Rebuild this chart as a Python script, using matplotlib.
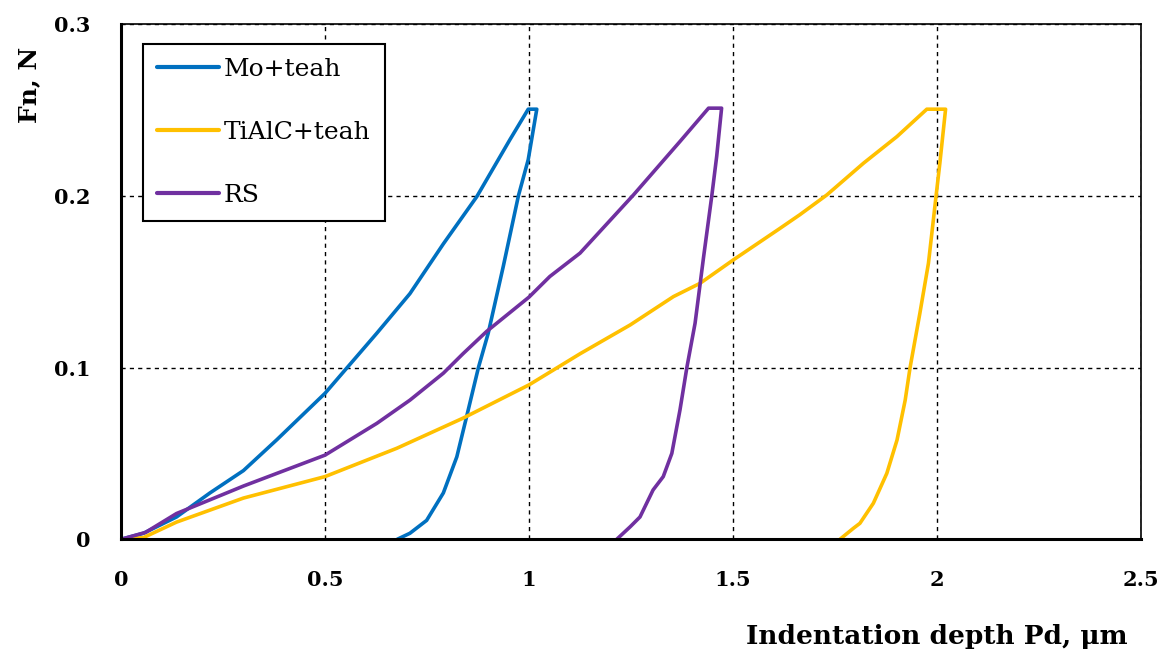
import numpy as np
import matplotlib
matplotlib.use("Agg")
import matplotlib.pyplot as plt

# Mo+teah loading / unloading curve (depth in um, force in N)
mo_depth = [0, 0.055, 0.136, 0.218, 0.300, 0.382, 0.5, 0.627, 0.708, 0.790, 0.872, 0.953, 0.998, 1.019,
            0.998, 0.974, 0.937, 0.900, 0.876, 0.847, 0.823, 0.790, 0.749, 0.708, 0.677]
mo_force = [0, 0.0035, 0.013, 0.027, 0.040, 0.058, 0.085, 0.120, 0.143, 0.172, 0.1995, 0.2326, 0.2504, 0.2504,
            0.221, 0.200, 0.159, 0.120, 0.100, 0.0714, 0.048, 0.027, 0.011, 0.0035, 0]

# TiAlC+teah
ti_depth = [0, 0.055, 0.136, 0.300, 0.5, 0.676, 0.838, 1.0, 1.125, 1.248, 1.354, 1.419, 1.501, 1.615, 1.664,
            1.730, 1.820, 1.902, 1.975, 2.021,
            2.007, 1.998, 1.979, 1.958, 1.934, 1.922, 1.902, 1.877, 1.844, 1.811, 1.795, 1.762]
ti_force = [0, 0.001, 0.010, 0.024, 0.0365, 0.053, 0.0705, 0.0899, 0.108, 0.1248, 0.1413, 0.149, 0.1627, 0.181, 0.189,
            0.2005, 0.219, 0.2345, 0.2504, 0.2504,
            0.219, 0.2005, 0.1607, 0.1316, 0.100, 0.081, 0.0578, 0.0384, 0.021, 0.0093, 0.0064, 0]

# RS
rs_depth = [0, 0.06, 0.136, 0.300, 0.5, 0.627, 0.708, 0.790, 0.838, 0.896, 1.0, 1.051, 1.125, 1.256, 1.370,
            1.440, 1.472,
            1.460, 1.448, 1.428, 1.407, 1.387, 1.370, 1.350, 1.329, 1.304, 1.272, 1.248, 1.215]
rs_force = [0, 0.004, 0.015, 0.031, 0.049, 0.0675, 0.081, 0.0967, 0.108, 0.121, 0.141, 0.153, 0.1666, 0.2005, 0.2316,
            0.251, 0.251,
            0.223, 0.200, 0.1646, 0.1258, 0.1002, 0.0753, 0.050, 0.0365, 0.0287, 0.013, 0.0073, 0]

series = [
    ("Mo+teah", mo_depth, mo_force, "#0070C0"),
    ("TiAlC+teah", ti_depth, ti_force, "#FFC000"),
    ("RS", rs_depth, rs_force, "#7030A0"),
]

x_ticks = [0, 0.5, 1, 1.5, 2, 2.5]
x_tick_labels = ["0", "0.5", "1", "1.5", "2", "2.5"]
y_ticks = [0, 0.1, 0.2, 0.3]
y_tick_labels = ["0", "0.1", "0.2", "0.3"]

plt.rcParams["font.family"] = ["DejaVu Serif"]

fig = plt.figure(figsize=(11.65, 6.54), dpi=100)
ax = fig.add_axes([0.1039, 0.1754, 0.8755, 0.7879])

for label, d, f, c in series:
    ax.plot(d, f, color=c, lw=2.6, label=label, solid_joinstyle="round", solid_capstyle="round")

ax.set_xlim(0, 2.5)
ax.set_ylim(0, 0.3)
ax.set_xticks(x_ticks)
ax.set_xticklabels(x_tick_labels, fontsize=15, fontweight="bold")
ax.set_yticks(y_ticks)
ax.set_yticklabels(y_tick_labels, fontsize=15, fontweight="bold")
ax.tick_params(axis="x", length=0, pad=22)
ax.tick_params(axis="y", length=0, pad=22)
ax.grid(True, color="black", linestyle=(0, (3, 3)), linewidth=1.0)
ax.set_axisbelow(True)

for side in ["left", "bottom"]:
    ax.spines[side].set_linewidth(2.2)
for side in ["top", "right"]:
    ax.spines[side].set_linewidth(1.2)

leg = ax.legend(loc="upper left", bbox_to_anchor=(0.0213, 0.9606), fontsize=18,
                frameon=True, fancybox=False, edgecolor="black", framealpha=1,
                handlelength=2.5, handletextpad=0.2, labelspacing=1.6, borderpad=0.55,
                borderaxespad=0)
leg.get_frame().set_linewidth(1.5)
for h in leg.get_lines():
    h.set_linewidth(3.0)

fig.text(0.025, 0.87, "Fn, N", rotation=90, fontsize=18, fontweight="bold", ha="center", va="center")
fig.text(0.804, 0.026, "Indentation depth Pd, \u03bcm", fontsize=19, fontweight="bold", ha="center", va="center")

fig.savefig("out.png", dpi=100)
